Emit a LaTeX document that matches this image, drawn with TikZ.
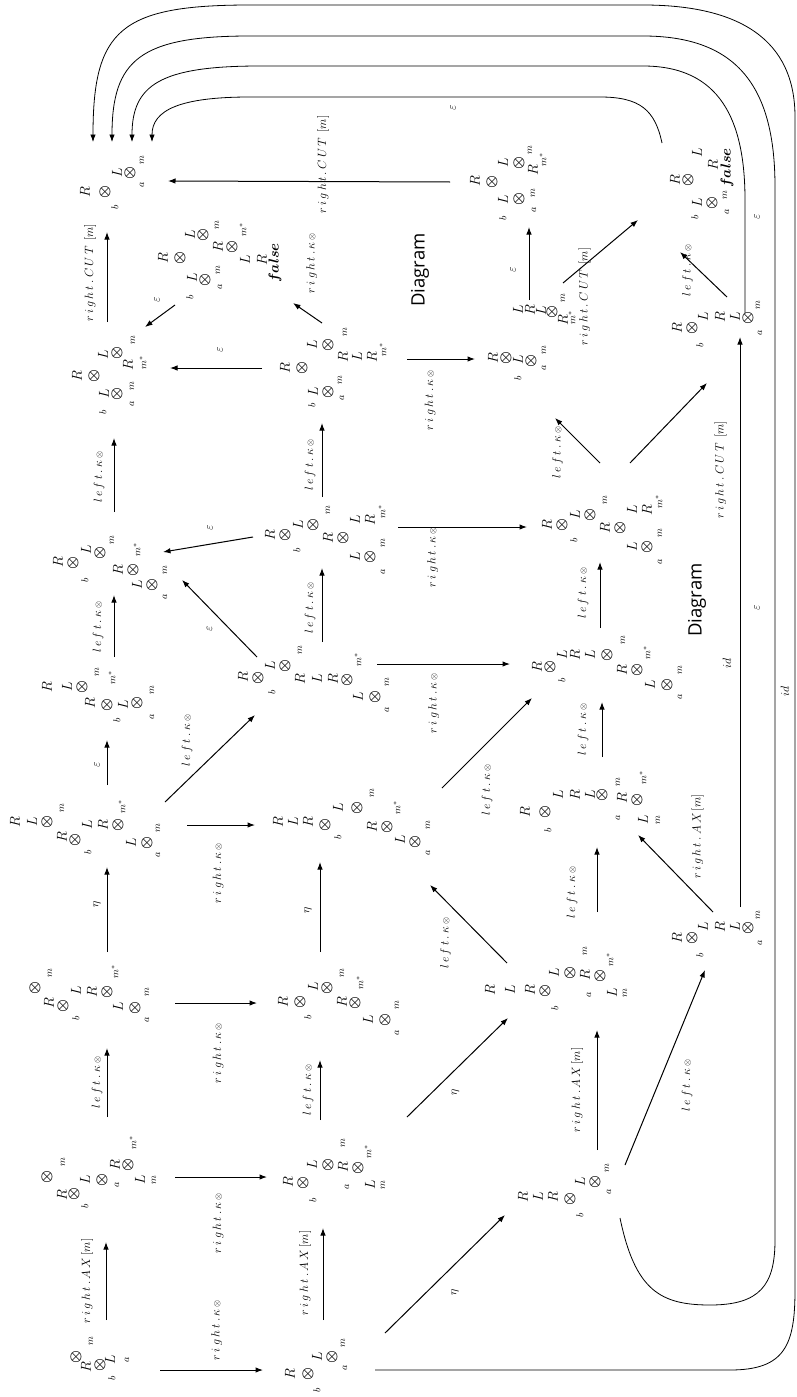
\documentclass[tikz,border=0pt]{standalone}
\usepackage{amsmath}
\usepackage{amssymb}
\usepackage{fontspec}
\newfontfamily\diagfont{Open Sans}
\usetikzlibrary{calc}
\usetikzlibrary{arrows.meta}

\newcommand{\ls}{\mkern3.5mu}
\newcommand{\lk}{l\ls e\ls f\ls t\ls .\ls\kappa\ls{\scriptstyle\otimes}}
\newcommand{\rk}{r\ls i\ls g\ls h\ls t\ls .\ls\kappa\ls{\scriptstyle\otimes}}
\newcommand{\rax}{r\ls i\ls g\ls h\ls t\ls .\ls A\ls X\left[m\right]}
\newcommand{\rcut}{r\ls i\ls g\ls h\ls t\ls .\ls C\ls U\ls T\;\left[m\right]}
\newcommand{\ot}{\boldsymbol{\otimes}}
\newcommand{\xa}{\scriptstyle a}
\newcommand{\xb}{\scriptstyle b}
\newcommand{\xm}{\scriptstyle m}
\newcommand{\xs}{\scriptstyle m^{*}}
\newcommand{\xf}{\boldsymbol{false}}
\newcommand{\trm}[2]{\foreach \dx/\dy/\s [count=\i] in {#2}{\node[sym] (#1c\i) at ($(#1)+(\dx,\dy)$) {$\s$};}}

\begin{document}
\begin{tikzpicture}[x=1pt, y=-1pt,
		sym/.style={rotate=90, inner sep=0pt, font=\fontsize{14.5}{16}\selectfont},
		lbl/.style={rotate=90, inner sep=0pt, font=\fontsize{13}{14}\selectfont},
		diag/.style={rotate=90, inner sep=0pt, font=\diagfont\fontsize{18.5}{20}\selectfont},
		arr/.style={-{Latex[length=7.5pt,width=5.5pt]}, line width=1pt},
		carr/.style={-{Latex[length=7.5pt,width=5.5pt]}, line width=0.8pt}
		]
		\useasboundingbox (0,0) rectangle (796,1397);

		\coordinate (N1) at (106,1370);
		\coordinate (N2) at (107,1177);
		\coordinate (N3) at (107,1003);
		\coordinate (N4) at (107,825);
		\coordinate (N5) at (110,690);
		\coordinate (N6) at (114,552);
		\coordinate (N7) at (107,368);
		\coordinate (N8) at (107,181);
		\coordinate (N9) at (200,258);
		\coordinate (M1) at (323,1370);
		\coordinate (M2) at (322,1177);
		\coordinate (M3) at (320,1003);
		\coordinate (M4) at (320,825);
		\coordinate (M5) at (322,664);
		\coordinate (M6) at (322,527);
		\coordinate (M7) at (322,359);
		\coordinate (K1) at (580,1190);
		\coordinate (K2) at (560,990);
		\coordinate (K4) at (600,527);
		\coordinate (K5) at (530,359);
		\coordinate (K6) at (740,330);
		\coordinate (K7) at (700,180);
		\coordinate (K8) at (740,940);
		\coordinate (K9) at (600,812);
		\coordinate (K10) at (600,664);
		\coordinate (K11) at (530,182);

		\trm{N1}{-30/-13/\ot, -15/-29/\xm, -20/-3/R, -6/-5/\ot, 4/-10/L, 6/8/\xb, 21/-10/\xa}
		\trm{N2}{-60/0/\ot, -44/-15/\xm, -45/18/R, -33/17/\ot, -22/3/L, -22/29/\xb, -5/3/\ot, 10/8/\xa, 8/-12/R, 21/-12/\ot, 26/-34/\xs, 33/3/L, 47/3/\xm}
		\trm{N3}{-72/-15/\ot, -57/-30/\xm, -58/0/R, -44/3/\ot, -31/-12/L, -31/15/\xb, -15/-11/R, 0/-11/\ot, 8/-31/\xs, 11/4/L, 28/5/\ot, 40/-11/\xm, 40/17/\xa}
		\trm{N4}{-92/-3/R, -75/-3/L, -60/-3/\ot, -45/-17/\xm, -45/12/R, -32/15/\ot, -20/0/L, -19/27/\xb, -4/0/R, 11/0/\ot, 15/-18/\xs, 24/18/L, 40/18/\ot, 51/3/\xm, 51/30/\xa}
		\trm{N5}{-63/-3/R, -43/-3/L, -28/-3/\ot, -13/-18/\xm, -20/13/R, -3/15/\ot, 2/-12/\xs, 7/30/\xb, 13/15/L, 27/13/\ot, 42/0/\xm, 42/27/\xa}
		\trm{N6}{-56/10/R, -41/11/\ot, -29/28/\xb, -28/-2/L, -14/1/\ot, -2/-12/\xm, 4/18/R, 19/18/\ot, 23/-2/\xs, 23/33/L, 38/33/\ot, 51/18/\xm, 51/45/\xa}
		\trm{N7}{-30/8/R, -13/8/\ot, -4/-13/L, 10/-15/\ot, 26/-28/\xm, 21/-3/R, 36/-5/\xs, -4/44/\xb, -3/26/L, 10/26/\ot, 25/36/\xa, 25/18/\xm}
		\trm{N8}{-22/11/R, -2/11/\ot, 8/26/\xb, 10/-8/L, 23/-8/\ot, 35/-21/\xm, 35/4/\xa}
		\trm{N9}{-37/0/R, -20/0/\ot, -10/39/\xb, -8/20/L, 5/22/\ot, 20/29/\xa, 18/12/\xm, -10/-23/L, 3/-23/\ot, 18/-11/R, 17/-33/\xm, 32/-11/\ot, 43/-28/\xs, 45/2/L, 62/2/R, 75/5/\xf}
		\trm{M1}{-33/4/R, -15/4/\ot, -6/20/\xb, -6/-13/L, 9/-13/\ot, 20/-27/\xm, 22/-2/\xa}
		\trm{M2}{-34/5/R, -19/6/\ot, -9/23/\xb, -10/-12/L, 6/-12/\ot, 21/-34/\xm, 25/10/\xa, 21/-10/R, 36/-9/\ot, 46/-25/\xs, 48/8/L, 61/8/\xm}
		\trm{M3}{-37/-1/R, -20/-1/\ot, -12/14/\xb, -7/-16/L, 7/-15/\ot, 22/-30/\xm, 22/-1/R, 35/0/\ot, 40/-20/\xs, 48/17/L, 65/17/\ot, 77/2/\xm, 77/30/\xa}
		\trm{M4}{-42/-3/R, -27/-3/L, -12/-3/R, 5/0/\ot, 18/-17/L, 18/12/\xb, 37/-17/\ot, 52/-32/\xm, 52/2/R, 67/2/\ot, 77/-17/\xs, 80/15/L, 95/17/\ot, 108/0/\xm, 108/28/\xa}
		\trm{M5}{-79/13/R, -64/14/\ot, -50/28/\xb, -52/2/L, -37/2/\ot, -22/-14/\xm, -22/15/R, -5/15/L, 11/15/R, 25/16/\ot, 36/-4/\xs, 36/33/L, 53/33/\ot, 65/18/\xm, 65/46/\xa}
		\trm{M6}{-52/8/R, -37/8/\ot, -25/23/\xb, -24/-2/L, -9/-2/\ot, 6/-17/\xm, 6/11/R, 21/11/\ot, 33/-7/L, 48/-7/R, 60/-15/\xs, 33/30/L, 48/30/\ot, 61/16/\xm, 61/45/\xa}
		\trm{M7}{-37/9/R, -20/9/\ot, -10/46/\xb, -9/33/L, 6/33/\ot, 20/39/\xa, 18/21/\xm, -10/-14/L, 6/-14/\ot, 23/-27/\xm, 21/-2/R, 35/-2/L, 50/-2/R, 61/-9/\xs}
		\trm{K11}{-55/-1/R, -38/0/\ot, -27/-19/L, -27/36/\xb, -27/18/L, -11/17/\ot, -11/-19/\ot, 4/28/\xa, 3/11/\xm, 3/-12/R, 0/-32/\xm, 13/-22/\xs}
		\trm{K5}{-37/-1/R, -24/-1/\ot, -12/19/\xb, -12/1/L, 1/2/\ot, 14/9/\xa, 14/-9/\xm, -12/-49/L, 0/-49/R, 11/-48/L, 22/-47/\ot, 33/-61/\xm, 33/-39/R, 42/-41/\xs}
		\trm{K4}{-53/-2/R, -38/-2/\ot, -26/13/\xb, -25/-12/L, -10/-12/\ot, 5/-27/\xm, 5/1/R, 20/1/\ot, 32/-17/L, 47/-17/R, 59/-25/\xs, 32/20/L, 47/20/\ot, 60/6/\xm, 60/35/\xa}
		\trm{K10}{-63/3/R, -50/3/\ot, -38/16/\xb, -38/-9/L, -25/-9/R, -10/-9/L, 7/-9/\ot, 23/-24/\xm, 22/6/R, 37/6/\ot, 47/-11/\xs, 50/21/L, 67/21/\ot, 80/6/\xm, 80/33/\xa}
		\trm{K9}{-75/0/R, -55/0/\ot, -52/18/\xb, -42/-17/L, -25/-17/R, -10/-17/L, 2/-17/\ot, 18/-30/\xm, 18/6/\xa, 22/-14/R, 37/-12/\ot, 43/-34/\xs, 43/8/L, 58/8/\xm}
		\trm{K7}{-25/0/R, -12/0/\ot, -5/37/\xb, -3/23/L, 12/23/\ot, 27/32/\xa, 25/15/\xm, -3/-27/L, 13/-15/R, 27/-12/\xf}
		\trm{K6}{-63/-2/R, -48/-2/\ot, -40/15/\xb, -37/-13/L, -20/-13/R, -5/-13/L, 8/-12/\ot, 18/-25/\xm, 20/3/\xa}
		\trm{K8}{-63/-2/R, -48/-2/\ot, -40/15/\xb, -37/-13/L, -20/-13/R, -5/-13/L, 8/-12/\ot, 18/-25/\xm, 20/3/\xa}
		\trm{K2}{-70/0/R, -50/0/L, -30/0/R, -15/1/\ot, -5/18/\xb, -6/-17/L, 10/-17/\ot, 25/-39/\xm, 29/5/\xa, 25/-15/R, 40/-14/\ot, 50/-30/\xs, 52/3/L, 65/3/\xm}
		\trm{K1}{-57/7/R, -42/7/L, -27/7/R, -10/9/\ot, 0/25/\xb, 0/-8/L, 15/-8/\ot, 27/-22/\xm, 29/2/\xa}

		\node[diag] (dg1) at (420,270) {Diagram};
		\node[diag] (dg2) at (697,600) {Diagram};

		\draw[arr] ($(N1)+(0,-50)$) -- ($(N2)+(-1,65)$) node[midway, shift={(-19,0)}, lbl] {$\rax$};
		\draw[arr] ($(N2)+(0,-60)$) -- ($(N3)+(0,45)$) node[midway, shift={(-10,0)}, lbl] {$\lk$};
		\draw[arr] ($(N3)+(0,-51)$) -- ($(N4)+(0,42)$) node[midway, shift={(-10,-5)}, lbl] {$\eta$};
		\draw[arr] ($(N4)+(0,-40)$) -- ($(N5)+(-3,50)$) node[midway, shift={(-10,2)}, lbl] {$\varepsilon$};
		\draw[arr] ($(N5)+(4,-33)$) -- ($(N6)+(0,43)$) node[midway, shift={(-16,1)}, lbl] {$\lk$};
		\draw[arr] ($(N6)+(0,-40)$) -- ($(N7)+(7,70)$) node[midway, shift={(-15,2)}, lbl] {$\lk$};
		\draw[arr] ($(N7)+(0,-46)$) -- ($(N8)+(0,51)$) node[midway, shift={(-17,-4)}, lbl] {$\rcut$};

		\draw[arr] ($(N1)+(54,0)$) -- ($(M1)+(-60,0)$) node[midway, shift={(5,-40)}, lbl] {$\rk$};
		\draw[arr] ($(N2)+(68,0)$) -- ($(M2)+(-55,0)$) node[midway, shift={(-3,46)}, lbl] {$\rk$};
		\draw[arr] ($(N3)+(68,0)$) -- ($(M3)+(-63,0)$) node[midway, shift={(2,50)}, lbl] {$\rk$};
		\draw[arr] ($(N4)+(80,0)$) -- ($(M4)+(-65,0)$) node[midway, shift={(-3,48)}, lbl] {$\rk$};
		\draw[arr] ($(N4)+(58,-23)$) -- ($(M5)+(-67,51)$) node[midway, shift={(-23,-18)}, lbl] {$\lk$};
		\draw[arr] ($(M5)+(-65,-7)$) -- ($(N6)+(68,28)$) node[midway, shift={(-10,10)}, lbl] {$\varepsilon$};
		\draw[arr] ($(M6)+(-69,10)$) -- ($(N6)+(49,0)$) node[midway, shift={(2,-17)}, lbl] {$\varepsilon$};
		\draw[arr] ($(M7)+(-60,9)$) -- ($(N7)+(63,0)$) node[midway, shift={(4,-18)}, lbl] {$\varepsilon$};
		\draw[arr] ($(N9)+(-25,47)$) -- ($(N7)+(38,-41)$) node[midway, shift={(-3,-16)}, lbl] {$\varepsilon$};
		\draw[arr] ($(M7)+(0,-36)$) -- ($(N9)+(93,45)$) node[midway, shift={(4,-50)}, lbl] {$\rk$};
		\draw[arr] ($(K11)+(-80,0)$) -- ($(N8)+(61,0)$) node[midway, shift={(14,-17)}, lbl] {$\rcut$};

		\draw[arr] ($(M1)+(0,-50)$) -- ($(M2)+(1,51)$) node[midway, shift={(-18,-1)}, lbl] {$\rax$};
		\draw[arr] ($(M2)+(-2,-57)$) -- ($(M3)+(0,57)$) node[midway, shift={(-12,0)}, lbl] {$\lk$};
		\draw[arr] ($(M3)+(0,-51)$) -- ($(M4)+(0,37)$) node[midway, shift={(-12,3)}, lbl] {$\eta$};
		\draw[arr] ($(M5)+(0,-22)$) -- ($(M6)+(0,41)$) node[midway, shift={(-12,3)}, lbl] {$\lk$};
		\draw[arr] ($(M6)+(0,-30)$) -- ($(M7)+(0,64)$) node[midway, shift={(-12,5)}, lbl] {$\lk$};

		\draw[arr] ($(M1)+(62,-37)$) -- ($(K1)+(-75,25)$) node[midway, shift={(10,18)}, lbl] {$\eta$};
		\draw[arr] ($(M2)+(85,-60)$) -- ($(K2)+(-52,28)$) node[midway, shift={(-2,25)}, lbl] {$\eta$};
		\draw[arr] ($(K2)+(-53,-27)$) -- ($(M4)+(110,60)$) node[midway, shift={(-23,19)}, lbl] {$\lk$};
		\draw[arr] ($(M4)+(122,-37)$) -- ($(K10)+(-68,34)$) node[midway, shift={(0,47)}, lbl] {$\lk$};
		\draw[arr] ($(M5)+(55,0)$) -- ($(K10)+(-90,0)$) node[midway, shift={(-10,39)}, lbl] {$\rk$};
		\draw[arr] ($(M6)+(76,0)$) -- ($(K4)+(-73,0)$) node[midway, shift={(-30,30)}, lbl] {$\rk$};
		\draw[arr] ($(M7)+(85,0)$) -- ($(K5)+(-55,0)$) node[midway, shift={(-11,41)}, lbl] {$\rk$};
		\draw[arr] ($(K5)+(-1,-59)$) -- ($(K11)+(-1,45)$) node[midway, shift={(-16,6)}, lbl] {$\varepsilon$};
		\draw[arr] ($(K5)+(33,-76)$) -- ($(K7)+(-62,40)$) node[midway, shift={(-16,45)}, lbl] {$\rcut$};
		\draw[arr] ($(K6)+(-13,-33)$) -- ($(K7)+(-20,72)$) node[midway, shift={(-16,-4)}, lbl] {$\lk$};
		\draw[arr] ($(K4)+(0,-64)$) -- ($(K5)+(25,59)$) node[midway, shift={(-20,12)}, lbl] {$\lk$};
		\draw[arr] ($(K4)+(30,-64)$) -- ($(K6)+(-33,53)$) node[midway, shift={(52,47)}, lbl] {$\rcut$};
		\draw[arr] ($(K10)+(0,-36)$) -- ($(K4)+(0,35)$) node[midway, shift={(-17,-2)}, lbl] {$\lk$};
		\draw[arr] ($(K9)+(2,-55)$) -- ($(K10)+(2,38)$) node[midway, shift={(-19,0)}, lbl] {$\lk$};
		\draw[arr] ($(K2)+(37,-78)$) -- ($(K9)+(-3,35)$) node[midway, shift={(-25,13)}, lbl] {$\lk$};
		\draw[arr] ($(K8)+(-27,-28)$) -- ($(K9)+(38,23)$) node[midway, shift={(22,-37)}, lbl] {$\rax$};
		\draw[arr] ($(K1)+(17,-40)$) -- ($(K2)+(37,40)$) node[midway, shift={(-20,0)}, lbl] {$\rax$};
		\draw[arr] ($(K1)+(45,-25)$) -- ($(K8)+(-35,30)$) node[midway, shift={(22,18)}, lbl] {$\lk$};
		\draw[arr] ($(K8)+(0,-33)$) -- ($(K6)+(0,7)$) node[midway, shift={(-13,41)}, lbl] {$id$};

		\draw[carr] ($(M1)+(52,0)$) -- (730,1370) .. controls (785,1370) and (795,1345) .. (795,1290)
			-- node[pos=.51, shift={(-10,0)}, lbl] {$id$} (795,117)
			.. controls (795,40) and (740,5) .. (643,5) -- (250,5) .. controls (120,5) and (93,30) .. ($(N8)+(-14,-39)$);
		\draw[carr] ($(K1)+(40,28)$) .. controls (635,1290) and (660,1305) .. (710,1305) .. controls (760,1305) and (775,1285) .. (775,1240)
			-- node[pos=.6, shift={(-18,0)}, lbl] {$\varepsilon$} (775,187)
			.. controls (775,90) and (740,36) .. (643,36) -- (250,36) .. controls (140,36) and (112,60) .. ($(N8)+(5,-39)$);
		\draw[carr] ($(K6)+(5,-17)$) -- node[pos=.85, shift={(12,0)}, lbl] {$\varepsilon$} (745,200)
			.. controls (745,120) and (720,66) .. (643,66) -- (260,66) .. controls (160,66) and (132,85) .. ($(N8)+(25,-39)$);
		\draw[carr] ($(K7)+(-38,-37)$) .. controls (655,110) and (640,97) .. (600,97)
			-- node[pos=.42, shift={(0,11)}, lbl] {$\varepsilon$} (250,97) .. controls (180,97) and (152,110) .. ($(N8)+(45,-39)$);
	\end{tikzpicture}
\end{document}
